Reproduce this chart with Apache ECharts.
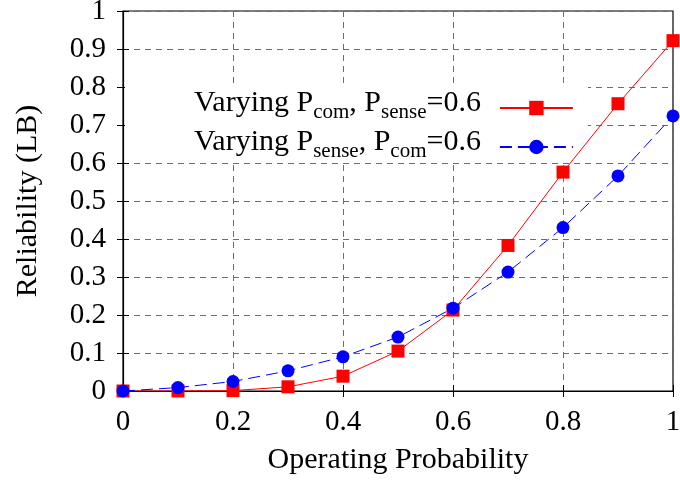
<!DOCTYPE html>
<html>
<head>
<meta charset="utf-8">
<script src="https://cdn.jsdelivr.net/npm/echarts@6/dist/echarts.min.js"></script>
<style>
  html, body { margin: 0; padding: 0; background: #fff; }
  #chart { width: 680px; height: 484px; }
</style>
</head>
<body>
<div id="chart"></div>
<script>
// Operating probability on the x axis
const probs = [0, 0.1, 0.2, 0.3, 0.4, 0.5, 0.6, 0.7, 0.8, 0.9, 1.0];
// Reliability lower bound when varying P_com with P_sense fixed at 0.6
const varyCom = [0, 0.0001, 0.001, 0.011, 0.039, 0.105, 0.213, 0.383, 0.576, 0.756, 0.922];
// Reliability lower bound when varying P_sense with P_com fixed at 0.6
const varySense = [0, 0.009, 0.025, 0.053, 0.090, 0.142, 0.218, 0.313, 0.430, 0.566, 0.724];

const seriesNames = ['Varying Pcom', 'Varying Psense'];
const legendRich = [
  '{n|Varying P}{s|com}{n|, P}{s|sense}{n|=0.6}',
  '{n|Varying P}{s|sense}{n|, P}{s|com}{n|=0.6}'
];
const xTitle = 'Operating Probability';
const yTitle = 'Reliability (LB)';

const FONT = '"Liberation Serif", "Times New Roman", serif';
const FS = 30;     // titles and legend
const FS_TICK = 29;
const GRID_BLUE = 'rgb(90, 90, 255)';

const pairs = (ys) => probs.map((x, i) => [x, ys[i]]);

// fresh objects per axis so nothing is shared between components
const gridLine = () => ({ show: true, lineStyle: { color: GRID_BLUE, width: 1, type: [6, 5] } });
const innerTick = () => ({ show: true, inside: true, length: 6, lineStyle: { color: '#000', width: 1 } });
const noSplit = () => ({ show: false });

const chart = echarts.init(document.getElementById('chart'), null, { renderer: 'canvas' });
chart.setOption({
  animation: false,
  backgroundColor: '#fff',
  grid: {
    left: 123, right: 7, top: 11, bottom: 93,
    outerBoundsMode: 'none', containLabel: false,
    show: true, borderColor: '#000', borderWidth: 1.2
  },
  xAxis: [{
    type: 'value', min: 0, max: 1, interval: 0.2,
    name: xTitle, nameLocation: 'middle', nameGap: 54,
    nameTextStyle: { fontFamily: FONT, fontSize: FS, color: '#000' },
    axisLine: { show: true, lineStyle: { color: '#000', width: 1.2 } },
    axisTick: innerTick(),
    axisLabel: { fontFamily: FONT, fontSize: FS_TICK, color: '#000', margin: 17 },
    splitLine: gridLine()
  }, {
    type: 'value', min: 0, max: 1, interval: 0.2, position: 'top',
    axisLine: { show: false }, axisTick: innerTick(),
    axisLabel: { show: false }, splitLine: noSplit()
  }],
  yAxis: [{
    type: 'value', min: 0, max: 1, interval: 0.1,
    name: yTitle, nameLocation: 'middle', nameGap: 80, nameRotate: 90,
    nameTextStyle: { fontFamily: FONT, fontSize: FS, color: '#000' },
    axisLine: { show: true, lineStyle: { color: '#000', width: 1.2 } },
    axisTick: innerTick(),
    axisLabel: { fontFamily: FONT, fontSize: FS_TICK, color: '#000', margin: 17 },
    splitLine: gridLine()
  }, {
    type: 'value', min: 0, max: 1, interval: 0.1, position: 'right',
    axisLine: { show: false }, axisTick: innerTick(),
    axisLabel: { show: false }, splitLine: noSplit()
  }],
  legend: {
    orient: 'vertical', align: 'right',
    left: 125, top: 87, z: 1,
    padding: [1, 14, 1, 69],
    itemGap: 4,
    itemWidth: 73, itemHeight: 18,
    backgroundColor: '#fff',
    data: seriesNames,
    formatter: (name) => legendRich[seriesNames.indexOf(name)],
    textStyle: {
      fontFamily: FONT, color: '#000', padding: [0, 14, 0, 0],
      rich: {
        n: { fontFamily: FONT, fontSize: FS, lineHeight: 30, verticalAlign: 'bottom', padding: [0, 0, 5, 0], color: '#000' },
        s: { fontFamily: FONT, fontSize: 21, lineHeight: 18, verticalAlign: 'bottom', color: '#000' }
      }
    }
  },
  series: [{
    name: seriesNames[0], type: 'line', data: pairs(varyCom),
    symbol: 'rect', symbolSize: 13,
    itemStyle: { color: '#ff0000' },
    lineStyle: { color: '#ff0000', width: 1 },
    z: 3
  }, {
    name: seriesNames[1], type: 'line', data: pairs(varySense),
    symbol: 'circle', symbolSize: 13,
    itemStyle: { color: '#0000ff' },
    lineStyle: { color: '#0000ff', width: 1, type: [12, 6] },
    z: 4
  }]
});
</script>
</body>
</html>
